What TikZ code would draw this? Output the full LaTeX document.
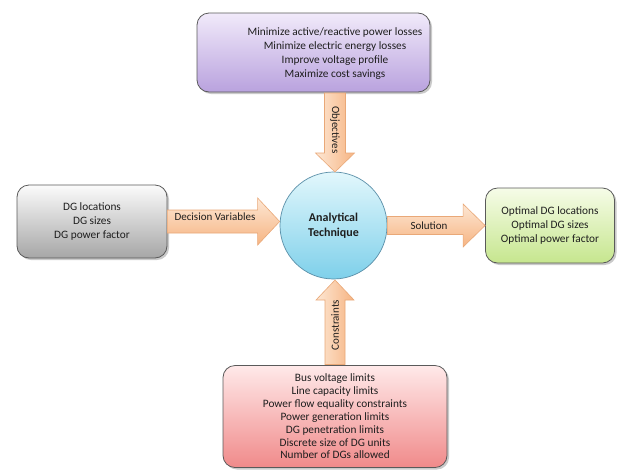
\documentclass[tikz,border=0pt]{standalone}
\usepackage{fontspec}
\setmainfont{Carlito}
\usetikzlibrary{shadows,calc}
\definecolor{txt}{HTML}{1E1E1E}
\definecolor{edge}{HTML}{5A5A5A}
\definecolor{purpT}{HTML}{F1EAFA}
\definecolor{purpB}{HTML}{B9A2DE}
\definecolor{grayT}{HTML}{FBFBFB}
\definecolor{grayB}{HTML}{A6A6A6}
\definecolor{greenT}{HTML}{F6FCE8}
\definecolor{greenB}{HTML}{C6E68E}
\definecolor{redT}{HTML}{FFE9E9}
\definecolor{redB}{HTML}{F08A8A}
\definecolor{cyanT}{HTML}{E2F7FC}
\definecolor{cyanB}{HTML}{7ED0EA}
\definecolor{cyanE}{HTML}{5A8FA8}
\definecolor{arrL}{HTML}{FDE7D4}
\definecolor{arrD}{HTML}{F6B482}
\definecolor{arrE}{HTML}{E9A878}
\tikzset{
  box/.style={draw=edge, line width=0.8pt, rounded corners=12pt, inner sep=0pt,
    drop shadow={shadow xshift=2pt, shadow yshift=-2pt, opacity=0.35, fill=black!60}},
  btext/.style={align=center, text=txt, font=\fontsize{11.3}{14}\selectfont, inner sep=0pt},
  alabel/.style={text=txt, font=\fontsize{11}{13}\selectfont, inner sep=0pt},
  harr/.style={draw=arrE, line width=0.6pt, top color=arrL, bottom color=arrD},
  varr/.style={draw=arrE, line width=0.6pt, left color=arrL, right color=arrD},
}
\begin{document}
\begin{tikzpicture}[x=1pt,y=-1pt]
\useasboundingbox (0,0) rectangle (617,469);
% boxes
\node[box, top color=purpT, bottom color=purpB, minimum width=233pt, minimum height=79pt] (top) at (313.5,52.5) {};
\node[btext] (toptext) at (335,53.5) {Minimize active/reactive power losses\\Minimize electric energy losses\\Improve voltage profile\\Maximize cost savings};
\node[box, top color=grayT, bottom color=grayB, minimum width=150pt, minimum height=73pt, btext] (left) at (92,221.5) {DG locations\\DG sizes\\DG power factor};
\node[box, top color=greenT, bottom color=greenB, minimum width=129pt, minimum height=75pt, btext] (right) at (550,225.5) {Optimal DG locations\\Optimal DG sizes\\Optimal power factor};
\node[box, top color=redT, bottom color=redB, minimum width=224pt, minimum height=102pt, btext, font=\fontsize{11.3}{12.85}\selectfont] (bottom) at (335,416.5) {Bus voltage limits\\Line capacity limits\\Power flow equality constraints\\Power generation limits\\DG penetration limits\\Discrete size of DG units\\Number of DGs allowed};
\node[circle, draw=cyanE, line width=0.7pt, top color=cyanT, bottom color=cyanB, minimum size=107pt, inner sep=0pt, align=center, text=txt, font=\fontsize{12}{15}\bfseries\selectfont] (circ) at (333.5,225.5) {Analytical\\Technique};
% arrow end points
\coordinate (dvT) at (left.east);
\coordinate (dvH) at (circ.west |- left.east);
\coordinate (soT) at (circ.east |- right.west);
\coordinate (soH) at (right.west);
\coordinate (obT) at (335,93);
\coordinate (obH) at (335,172);
\coordinate (coT) at (335,364.5);
\coordinate (coH) at (335,280);
% Decision Variables arrow
\draw[harr] ($(dvT)+(0,-11.5)$) -- ($(dvH)+(-22,-11.5)$) -- ($(dvH)+(-22,-23.5)$) -- (dvH)
  -- ($(dvH)+(-22,23.5)$) -- ($(dvH)+(-22,11.5)$) -- ($(dvT)+(0,11.5)$) -- cycle;
\node[alabel] (dvlab) at (215,217) {Decision Variables};
% Solution arrow
\draw[harr] ($(soT)+(0,-9)$) -- ($(soH)+(-22,-9)$) -- ($(soH)+(-22,-21.5)$) -- (soH)
  -- ($(soH)+(-22,21.5)$) -- ($(soH)+(-22,9)$) -- ($(soT)+(0,9)$) -- cycle;
\node[alabel] (solab) at (429,226) {Solution};
% Objectives arrow
\draw[varr] ($(obT)+(-10.5,0)$) -- ($(obH)+(-10.5,-19)$) -- ($(obH)+(-19.5,-19)$) -- (obH)
  -- ($(obH)+(19.5,-19)$) -- ($(obH)+(10.5,-19)$) -- ($(obT)+(10.5,0)$) -- cycle;
\node[alabel, rotate=-90] (oblab) at (335,130) {Objectives};
% Constraints arrow
\draw[varr] ($(coT)+(-10,0)$) -- ($(coH)+(-10,20)$) -- ($(coH)+(-19,20)$) -- (coH)
  -- ($(coH)+(19,20)$) -- ($(coH)+(10,20)$) -- ($(coT)+(10,0)$) -- cycle;
\node[alabel, rotate=90] (colab) at (335,325) {Constraints};
\end{tikzpicture}
\end{document}
